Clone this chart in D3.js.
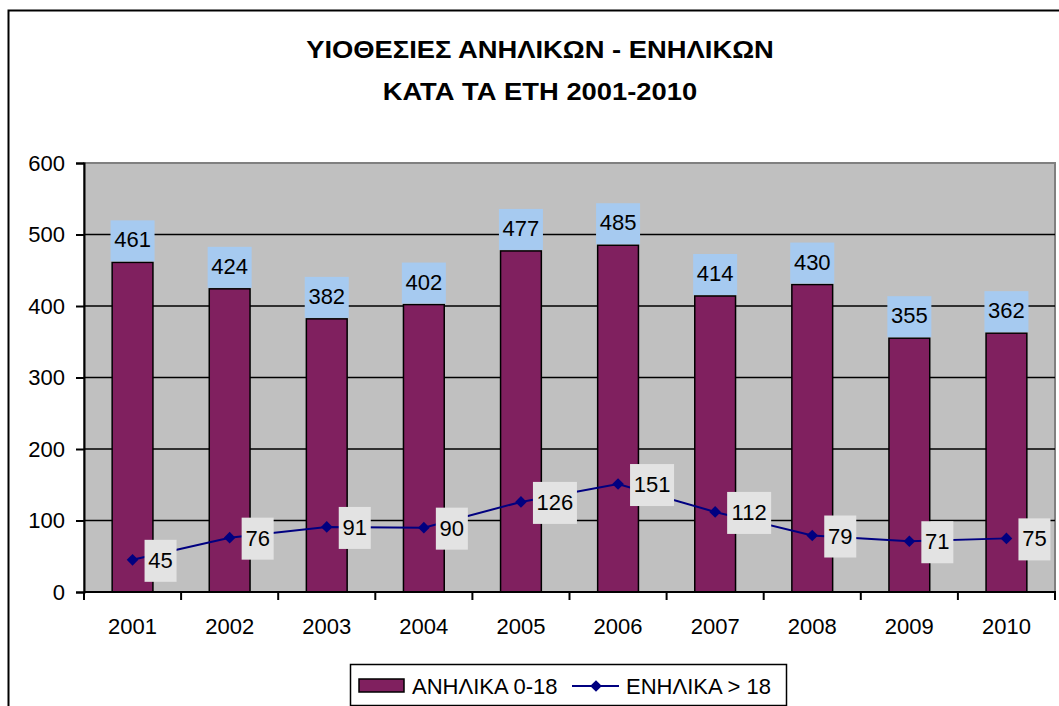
<!DOCTYPE html>
<html>
<head>
<meta charset="utf-8">
<script src="https://cdn.jsdelivr.net/npm/d3@7"></script>
<style>
  body { margin: 0; background: #fff; overflow: hidden; }
  text { font-family: "Liberation Sans", Arial, sans-serif; }
</style>
</head>
<body>
<div id="chart"></div>
<script>
// data
const years = ["2001", "2002", "2003", "2004", "2005", "2006", "2007", "2008", "2009", "2010"];
const minors = [461, 424, 382, 402, 477, 485, 414, 430, 355, 362];
const adults = [45, 76, 91, 90, 126, 151, 112, 79, 71, 75];
const yTicks = [0, 100, 200, 300, 400, 500, 600];
const titleLines = ["ΥΙΟΘΕΣΙΕΣ ΑΝΗΛΙΚΩΝ - ΕΝΗΛΙΚΩΝ", "ΚΑΤΑ ΤΑ ΕΤΗ 2001-2010"];
const legendNames = ["ΑΝΗΛΙΚΑ 0-18", "ΕΝΗΛΙΚΑ > 18"];

const svg = d3.select("#chart").append("svg").attr("width", 1059).attr("height", 706);

// ----- outer frame -------
svg.append("rect")
  .attr("x", 8.5).attr("y", 10.5)
  .attr("width", 1070).attr("height", 720)
  .attr("fill", "white").attr("stroke", "black").attr("stroke-width", 2);

// ----- title (glyphs are drawn a bit wide in the original) -------
svg.selectAll(".title").data(titleLines).enter().append("text")
  .attr("class", "title")
  .attr("transform", (d, i) => "translate(540," + (58 + i * 42) + ") scale(1.14,1)")
  .attr("text-anchor", "middle")
  .style("font-size", "24px").style("font-weight", "bold")
  .text(d => d);

// ----- scales -------
const pLeft = 84, pRight = 1055, pTop = 163, pBottom = 592;
const x = d3.scaleBand().domain(years).range([pLeft, pRight]);
const y = d3.scaleLinear().domain([0, 600]).range([pBottom, pTop]);

// plot area
svg.append("rect")
  .attr("x", pLeft).attr("y", pTop)
  .attr("width", pRight - pLeft).attr("height", pBottom - pTop)
  .attr("fill", "#C0C0C0").attr("stroke", "#808080").attr("stroke-width", 2);

// gridlines
svg.selectAll(".grid").data(yTicks.slice(1, -1)).enter().append("line")
  .attr("x1", pLeft).attr("x2", pRight)
  .attr("y1", d => y(d)).attr("y2", d => y(d))
  .attr("stroke", "black").attr("stroke-width", 1.5);

// ----- bars -------
const barW = x.bandwidth() * 0.42;
svg.selectAll(".bar").data(minors).enter().append("rect")
  .attr("x", (d, i) => x(years[i]) + x.bandwidth() / 2 - barW / 2)
  .attr("y", d => y(d))
  .attr("width", barW)
  .attr("height", d => pBottom - y(d))
  .attr("fill", "#80205F").attr("stroke", "black").attr("stroke-width", 1.5);

// bar labels
const bl = svg.selectAll(".blab").data(minors).enter().append("g");
bl.append("rect")
  .attr("x", (d, i) => x(years[i]) + x.bandwidth() / 2 - 22)
  .attr("y", d => y(d) - 42)
  .attr("width", 44).attr("height", 41)
  .attr("fill", "#A6CAF0");
bl.append("text")
  .attr("x", (d, i) => x(years[i]) + x.bandwidth() / 2)
  .attr("y", d => y(d) - 15)
  .attr("text-anchor", "middle")
  .style("font-size", "22px")
  .text(d => d);

// ----- line -------
const cx = (d, i) => x(years[i]) + x.bandwidth() / 2;
const line = d3.line().x(cx).y(d => y(d));
svg.append("path")
  .datum(adults)
  .attr("d", line)
  .attr("fill", "none").attr("stroke", "#000080").attr("stroke-width", 2);

const diamond = d3.symbol().type(d3.symbolSquare).size(68);
svg.selectAll(".pt").data(adults).enter().append("path")
  .attr("d", diamond)
  .attr("transform", (d, i) => "translate(" + cx(d, i) + "," + y(d) + ") rotate(45)")
  .attr("fill", "#000080");

// line labels
const ll = svg.selectAll(".llab").data(adults).enter().append("g");
ll.append("rect")
  .attr("x", (d, i) => cx(d, i) + 12)
  .attr("y", d => y(d) - 20)
  .attr("width", d => d >= 100 ? 44 : 32).attr("height", 42)
  .attr("fill", "#E3E3E3");
ll.append("text")
  .attr("x", (d, i) => cx(d, i) + 12 + (d >= 100 ? 22 : 16))
  .attr("y", d => y(d) + 8)
  .attr("text-anchor", "middle")
  .style("font-size", "22px")
  .text(d => d);

// ----- axes -------
const yAxis = svg.append("g")
  .attr("transform", "translate(" + pLeft + ",0)")
  .call(d3.axisLeft(y).tickValues(yTicks).tickSize(8).tickPadding(11));
yAxis.select(".domain").attr("stroke", "black").attr("stroke-width", 2);
yAxis.selectAll(".tick line").attr("stroke-width", 2);
yAxis.selectAll("text").style("font-size", "22px").style("font-family", "Liberation Sans, Arial, sans-serif").attr("fill", "black");

svg.append("line")
  .attr("x1", pLeft).attr("x2", pRight + 1)
  .attr("y1", pBottom).attr("y2", pBottom)
  .attr("stroke", "black").attr("stroke-width", 2);
const bounds = years.map(d => x(d)).concat([pRight]);
svg.selectAll(".xtick").data(bounds).enter().append("line")
  .attr("x1", d => d).attr("x2", d => d)
  .attr("y1", pBottom).attr("y2", pBottom + 8)
  .attr("stroke", "black").attr("stroke-width", 2);
svg.selectAll(".xlab").data(years).enter().append("text")
  .attr("x", d => x(d) + x.bandwidth() / 2)
  .attr("y", 634)
  .attr("text-anchor", "middle")
  .style("font-size", "22px")
  .text(d => d);

// ----- legend -------
const lg = svg.append("g");
lg.append("rect")
  .attr("x", 350.5).attr("y", 664.5).attr("width", 436).attr("height", 41)
  .attr("fill", "white").attr("stroke", "black").attr("stroke-width", 1.5);
lg.append("rect")
  .attr("x", 359).attr("y", 679).attr("width", 45).attr("height", 13)
  .attr("fill", "#80205F").attr("stroke", "black").attr("stroke-width", 1.5);
lg.append("text").attr("x", 412).attr("y", 694).style("font-size", "22px").text(legendNames[0]);
lg.append("line")
  .attr("x1", 572).attr("x2", 619).attr("y1", 686).attr("y2", 686)
  .attr("stroke", "#000080").attr("stroke-width", 2);
lg.append("path")
  .attr("d", diamond)
  .attr("transform", "translate(596,686) rotate(45)")
  .attr("fill", "#000080");
lg.append("text").attr("x", 626).attr("y", 694).style("font-size", "22px").text(legendNames[1]);
</script>
</body>
</html>
